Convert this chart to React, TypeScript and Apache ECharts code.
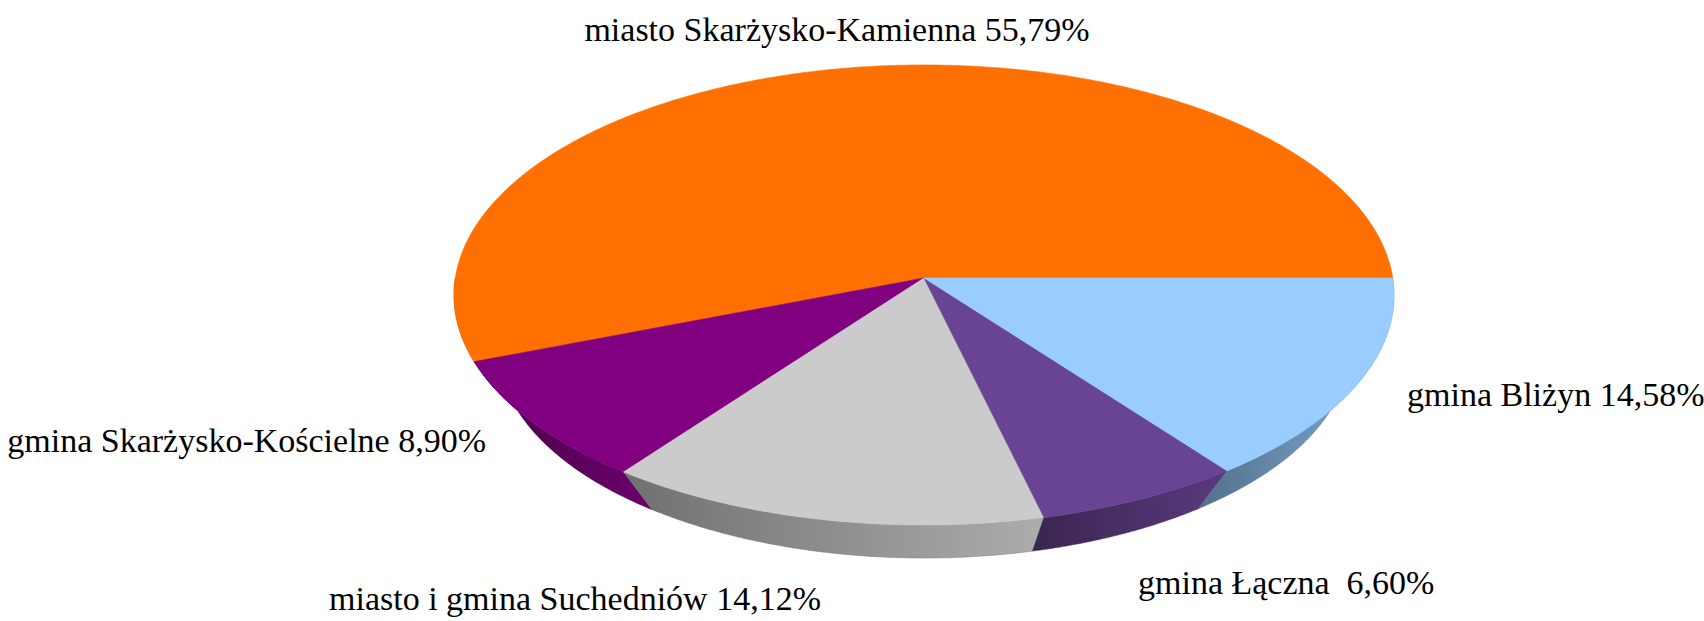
import React, { useEffect, useRef } from "react";
import * as echarts from "echarts";

// ---- data ----
const categories = [
  "miasto Skarżysko-Kamienna",
  "gmina Skarżysko-Kościelne",
  "miasto i gmina Suchedniów",
  "gmina Łączna ",
  "gmina Bliżyn",
];
const values = [55.79, 8.9, 14.12, 6.6, 14.58];
const colors = ["#FF7000", "#800080", "#CBCBCB", "#6A4494", "#99CCFF"];

// ---- layout (positions / sizes) ----
const labelLayout = [
  { x: 837, y: 29, align: "center" },
  { x: 486, y: 440, align: "right" },
  { x: 575, y: 598, align: "center" },
  { x: 1138, y: 582, align: "left" },
  { x: 1407, y: 394, align: "left" },
];
// perspective-projected disc: apex (cx,cy), horizontal scale u, vertical scale us, perspective k
const geo = { cx: 924, cy: 278, u: 468.7, us: 228.8, k: 0.074 };
// bottom rim = top rim scaled towards the apex (mx,my) and shifted down by dy
const rim = { mx: 0.905, my: 0.91, dy: 55.2 };

function shade(hex: string, f: number) {
  const n = parseInt(hex.slice(1), 16);
  const r = Math.min(255, Math.round(((n >> 16) & 255) * f));
  const g = Math.min(255, Math.round(((n >> 8) & 255) * f));
  const b = Math.min(255, Math.round((n & 255) * f));
  return `rgb(${r},${g},${b})`;
}

function pt(a: number, bottom = false): number[] {
  const rad = (a * Math.PI) / 180;
  const s = Math.sin(rad);
  const c = Math.cos(rad);
  const den = 1 + geo.k * s;
  let dx = (geo.u * c) / den;
  let dy = (-geo.us * s) / den;
  if (bottom) {
    dx = dx * rim.mx;
    dy = dy * rim.my + rim.dy;
  }
  return [geo.cx + dx, geo.cy + dy];
}

function arcPts(a1: number, a2: number, bottom = false): number[][] {
  const pts: number[][] = [];
  const steps = Math.max(2, Math.ceil(Math.abs(a2 - a1) / 0.5));
  for (let k = 0; k <= steps; k++) pts.push(pt(a1 + ((a2 - a1) * k) / steps, bottom));
  return pts;
}

export default function App() {
  const ref = useRef<HTMLDivElement>(null);
  useEffect(() => {
    if (!ref.current) return;
    const chart = echarts.init(ref.current, undefined, { renderer: "svg" });
    const total = values.reduce((s, v) => s + v, 0);
    const starts: number[] = [];
    let acc = 0;
    values.forEach((v) => {
      starts.push((acc / total) * 360);
      acc += v;
    });

    const renderItem = (params: any, api: any) => {
      const i = params.dataIndex;
      const v = api.value(0);
      const a1 = starts[i];
      const a2 = a1 + (v / total) * 360;
      const color = colors[i];
      const children: any[] = [];
      // outer wall (front half only)
      const b1 = Math.max(a1, 180);
      const b2 = Math.min(a2, 360);
      if (b2 > b1) {
        const top = arcPts(b1, b2, false);
        const bot = arcPts(b2, b1, true);
        children.push({
          type: "polygon",
          z2: 1,
          shape: { points: top.concat(bot) },
          style: {
            fill: new echarts.graphic.LinearGradient(0, 0, 1, 0, [
              { offset: 0, color: shade(color, 0.55) },
              { offset: 1, color: shade(color, 0.85) },
            ]),
            stroke: shade(color, 0.58),
            lineWidth: 0.5,
          },
        });
      }
      // top face
      children.push({
        type: "polygon",
        z2: 2,
        shape: { points: [[geo.cx, geo.cy]].concat(arcPts(a1, a2, false)) },
        style: { fill: color, stroke: color, lineWidth: 0.6 },
      });
      // label
      const L = labelLayout[i];
      children.push({
        type: "text",
        z2: 3,
        style: {
          text: `${categories[i]} ${v.toFixed(2).replace(".", ",")}%`,
          x: L.x,
          y: L.y,
          fill: "#000",
          fontSize: 34,
          fontFamily: "'Liberation Serif', serif",
          align: L.align,
          verticalAlign: "middle",
        },
      });
      return { type: "group", children };
    };

    chart.setOption({
      animation: false,
      backgroundColor: "#ffffff",
      series: [
        {
          type: "custom",
          coordinateSystem: "none",
          renderItem,
          data: values.map((v, i) => ({ value: v, name: categories[i] })),
        },
      ],
    });
    return () => chart.dispose();
  }, []);
  return (
    <div
      ref={ref}
      style={{ position: "fixed", left: 0, top: 0, width: 1704, height: 621 }}
    />
  );
}
